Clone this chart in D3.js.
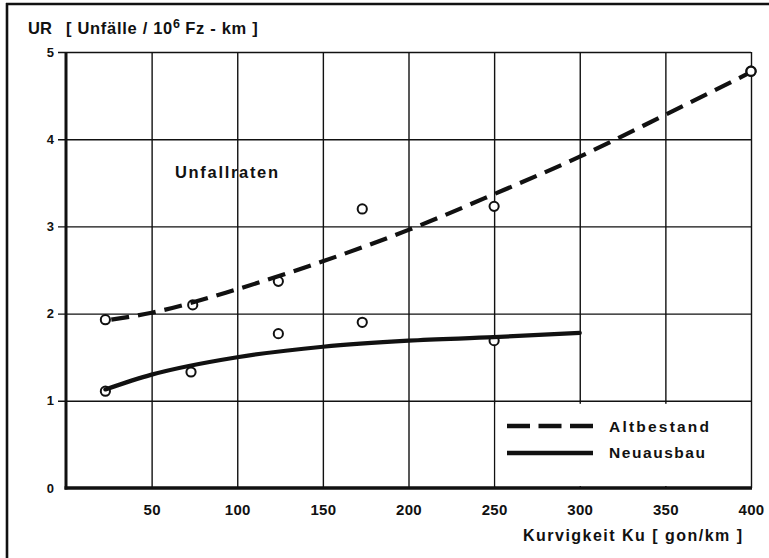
<!DOCTYPE html>
<html><head><meta charset="utf-8">
<script src="https://cdn.jsdelivr.net/npm/d3@7"></script>
<style>
html,body{margin:0;padding:0;background:#fff;}
svg{display:block;}
text{font-family:'Liberation Sans',Arial,sans-serif;font-weight:bold;fill:#111;}
</style></head><body>
<script>
// ---- data ----
const xTicks = [50,100,150,200,250,300,350,400];
const yTicks = [0,1,2,3,4,5];
// measured points (circles)
const altPtsX = [23, 74, 124, 173, 250, 400];
const altPtsY = [1.93, 2.10, 2.37, 3.20, 3.23, 4.78];
const neuPtsX = [23, 73, 124, 173, 250];
const neuPtsY = [1.11, 1.33, 1.77, 1.90, 1.69];
// fitted curves as drawn in the reference
const altCurveX = [23, 50, 100, 150, 200, 250, 300, 350, 400];
const altCurveY = [1.92, 2.01, 2.28, 2.60, 2.96, 3.37, 3.80, 4.28, 4.77];
const neuCurveX = [23, 50, 100, 150, 200, 250, 300];
const neuCurveY = [1.13, 1.30, 1.50, 1.62, 1.69, 1.73, 1.78];
const seriesNames = ["Altbestand", "Neuausbau"];

const W = 769, H = 558;
const svg = d3.select("body").append("svg").attr("width", W).attr("height", H);
const x = d3.scaleLinear().domain([0, 400]).range([66, 751]);
const y = d3.scaleLinear().domain([0, 5]).range([488, 52]);
const ink = "#111";

// outer frame (left & top)
svg.append("line").attr("x1", 7).attr("x2", 7).attr("y1", 3).attr("y2", H).attr("stroke", ink).attr("stroke-width", 2.6);
svg.append("line").attr("x1", 6).attr("x2", W).attr("y1", 4).attr("y2", 4).attr("stroke", ink).attr("stroke-width", 2.6);

// vertical grid
const gv = svg.append("g").attr("transform", `translate(0,${y(0)})`)
  .call(d3.axisBottom(x).tickValues([50,100,150,200,250,300,350,400]).tickSize(-(y(0) - y(5))).tickFormat(""));
gv.select(".domain").remove();
gv.selectAll(".tick line").attr("stroke", ink).attr("stroke-width", 1.4);

// horizontal grid (extends left as tick)
const gh = svg.append("g").attr("transform", `translate(${x(400)},0)`)
  .call(d3.axisLeft(y).tickValues([1,2,3,4,5]).tickSize(x(400) - x(0) + 8).tickFormat(""));
gh.select(".domain").remove();
gh.selectAll(".tick line").attr("stroke", ink).attr("stroke-width", 1.4);

// legend area blank (no grid)
svg.append("rect").attr("x", x(250) + 1.5).attr("y", y(1) + 3).attr("width", x(400) - x(250) - 3).attr("height", y(0) - y(1) - 5).attr("fill", "#fff");

// axes lines
svg.append("line").attr("x1", x(0)).attr("x2", x(0)).attr("y1", y(5)).attr("y2", y(0) + 1.5).attr("stroke", ink).attr("stroke-width", 3);
svg.append("line").attr("x1", x(0) - 1.5).attr("x2", x(400) + 1).attr("y1", y(0)).attr("y2", y(0)).attr("stroke", ink).attr("stroke-width", 3.5);

// tick labels
const ax = svg.append("g").attr("transform", `translate(0,${y(0)})`)
  .call(d3.axisBottom(x).tickValues(xTicks).tickSize(0).tickPadding(16).tickFormat(d3.format("d")));
ax.select(".domain").remove();
ax.selectAll("text").attr("font-size", 15).attr("font-family", null).attr("fill", ink).attr("letter-spacing", 0.3);

const ay = svg.append("g").attr("transform", `translate(${x(0)},0)`)
  .call(d3.axisLeft(y).tickValues(yTicks).tickSize(0).tickPadding(12).tickFormat(d3.format("d")));
ay.select(".domain").remove();
ay.selectAll("text").attr("font-size", 13).attr("font-family", null).attr("fill", ink);

// curves
const line = d3.line().x(d => x(d[0])).y(d => y(d[1])).curve(d3.curveMonotoneX);
const altCurve = altCurveX.map((v, i) => [v, altCurveY[i]]);
const neuCurve = neuCurveX.map((v, i) => [v, neuCurveY[i]]);

// points (circles)
const pts = altPtsX.map((v, i) => [v, altPtsY[i]]).concat(neuPtsX.map((v, i) => [v, neuPtsY[i]]));
svg.append("g").selectAll("circle").data(pts).join("circle")
  .attr("cx", d => x(d[0])).attr("cy", d => y(d[1])).attr("r", 4.6)
  .attr("fill", "#fff").attr("stroke", ink).attr("stroke-width", 2);

svg.append("path").datum(altCurve).attr("d", line).attr("fill", "none").attr("stroke", ink)
  .attr("stroke-width", 4.2).attr("stroke-dasharray", "18,9").attr("stroke-dashoffset", 21);
svg.append("path").datum(neuCurve).attr("d", line).attr("fill", "none").attr("stroke", ink)
  .attr("stroke-width", 4.2).attr("stroke-linecap", "round");

// redraw point at the end of dashed curve on top
svg.append("circle").attr("cx", x(altPtsX[5])).attr("cy", y(altPtsY[5])).attr("r", 4.6)
  .attr("fill", "#fff").attr("stroke", ink).attr("stroke-width", 2.2);

// legend
svg.append("line").attr("x1", 507).attr("x2", 593).attr("y1", 426).attr("y2", 426)
  .attr("stroke", ink).attr("stroke-width", 4.5).attr("stroke-dasharray", "23,8.5");
svg.append("line").attr("x1", 507).attr("x2", 593).attr("y1", 453).attr("y2", 453)
  .attr("stroke", ink).attr("stroke-width", 4.5);
svg.append("text").attr("x", 609).attr("y", 432).attr("font-size", 15.5)
  .attr("textLength", 100).attr("lengthAdjust", "spacing").text(seriesNames[0]);
svg.append("text").attr("x", 609).attr("y", 458).attr("font-size", 15.5)
  .attr("textLength", 96).attr("lengthAdjust", "spacing").text(seriesNames[1]);

// texts
svg.append("text").attr("x", 175).attr("y", 178).attr("font-size", 16.5)
  .attr("textLength", 103).attr("lengthAdjust", "spacing").text("Unfallraten");

const t = svg.append("text").attr("x", 28).attr("y", 34).attr("font-size", 16.5);
t.append("tspan").attr("x", 28).text("UR");
t.append("tspan").attr("x", 66).attr("letter-spacing", 0.7).text("[ Unfälle / 10");
t.append("tspan").attr("font-size", 12.5).attr("dy", -6).text("6");
t.append("tspan").attr("dy", 6).attr("letter-spacing", 0.7).text(" Fz - km ]");

svg.append("text").attr("x", 523).attr("y", 541).attr("font-size", 16)
  .attr("textLength", 219).attr("lengthAdjust", "spacing").text("Kurvigkeit Ku [ gon/km ]");
</script>
</body></html>
